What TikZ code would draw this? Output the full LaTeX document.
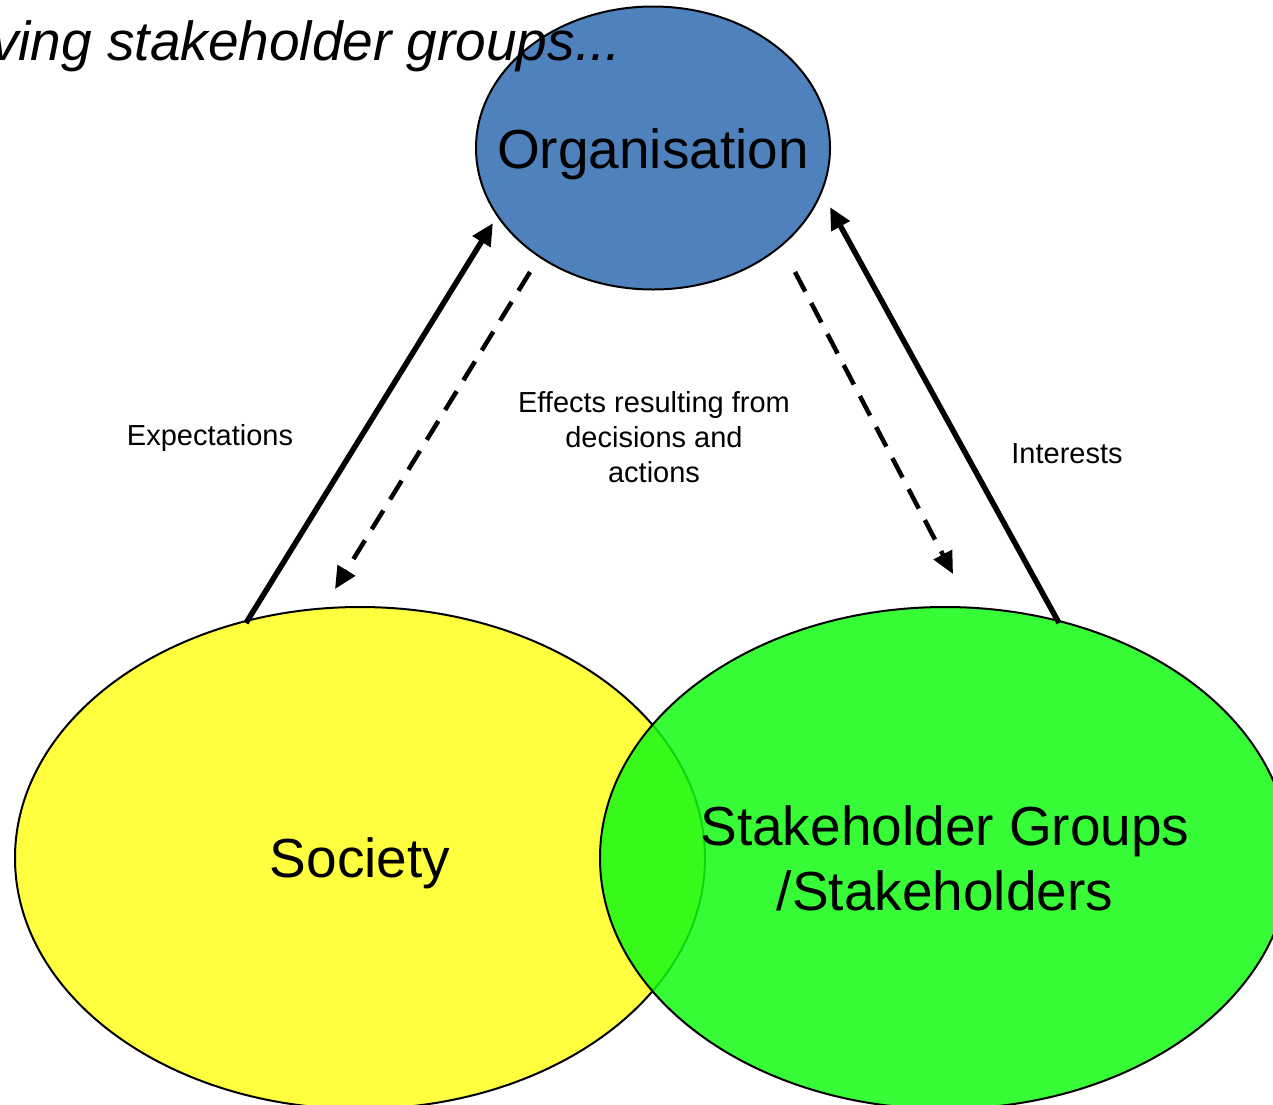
\documentclass[tikz,border=0pt]{standalone}
\usepackage{fontspec}
\setmainfont{Liberation Sans}
\usetikzlibrary{shapes.geometric,arrows.meta}
\definecolor{orgblue}{HTML}{4F81BD}
\definecolor{socyellow}{RGB}{255,255,64}
\definecolor{stkgreen}{RGB}{20,250,20}
\begin{document}
\begin{tikzpicture}[x=1pt,y=-1pt,
  bubble/.style={ellipse, draw=black, line width=2pt, inner sep=0pt},
  bigtext/.style={font=\fontsize{55}{65}\selectfont, align=center, anchor=base},
  smalltext/.style={font=\fontsize{29}{35}\selectfont, align=center, anchor=base},
  flow/.style={line width=5.5pt, -{Triangle[length=22pt,width=20pt]}},
  effect/.style={line width=4.5pt, dash pattern=on 22pt off 13pt, -{Triangle[length=22pt,width=20pt]}}]
\useasboundingbox (0,0) rectangle (1273,1104);
\clip (0,0) rectangle (1273,1104);

% the three parties
\node[bubble, fill=socyellow, minimum width=690pt, minimum height=502pt] (soc) at (360,858) {};
\node[bubble, fill=stkgreen, fill opacity=0.85, minimum width=690pt, minimum height=502pt] (stk) at (945,858) {};
\node[bubble, fill=orgblue, minimum width=354pt, minimum height=283pt] (org) at (653,148) {};

% heading line running into the top of the diagram
\node[anchor=base west, inner sep=0pt, font=\itshape\fontsize{55}{65}\selectfont] (intro) at (-9,60) {ving stakeholder groups...};

% labels inside the bubbles (anchor=base sits on the last line)
\node[bigtext] (orgtxt) at (653,168) {Organisation};
\node[bigtext] (soctxt) at (360,877) {Society};
\node[bigtext] (stktxt) at (945,910) {Stakeholder Groups\\/Stakeholders};

% arrow end points
\coordinate (socTop) at (246,623);
\coordinate (orgIn1) at (493,223);
\coordinate (orgOut1) at (530,272);
\coordinate (socIn) at (335,589);
\coordinate (orgOut2) at (795,272);
\coordinate (stkIn) at (953,574);
\coordinate (stkTop) at (1059,623);
\coordinate (orgIn2) at (830,207);

\draw[flow] (socTop) -- (orgIn1);
\draw[effect] (orgOut1) -- (socIn);
\draw[effect] (orgOut2) -- (stkIn);
\draw[flow] (stkTop) -- (orgIn2);

% connector labels
\node[smalltext] (exp) at (210,445) {Expectations};
\node[smalltext] (eff) at (654,482) {Effects resulting from\\decisions and\\actions};
\node[smalltext] (int) at (1067,463) {Interests};
\end{tikzpicture}
\end{document}
